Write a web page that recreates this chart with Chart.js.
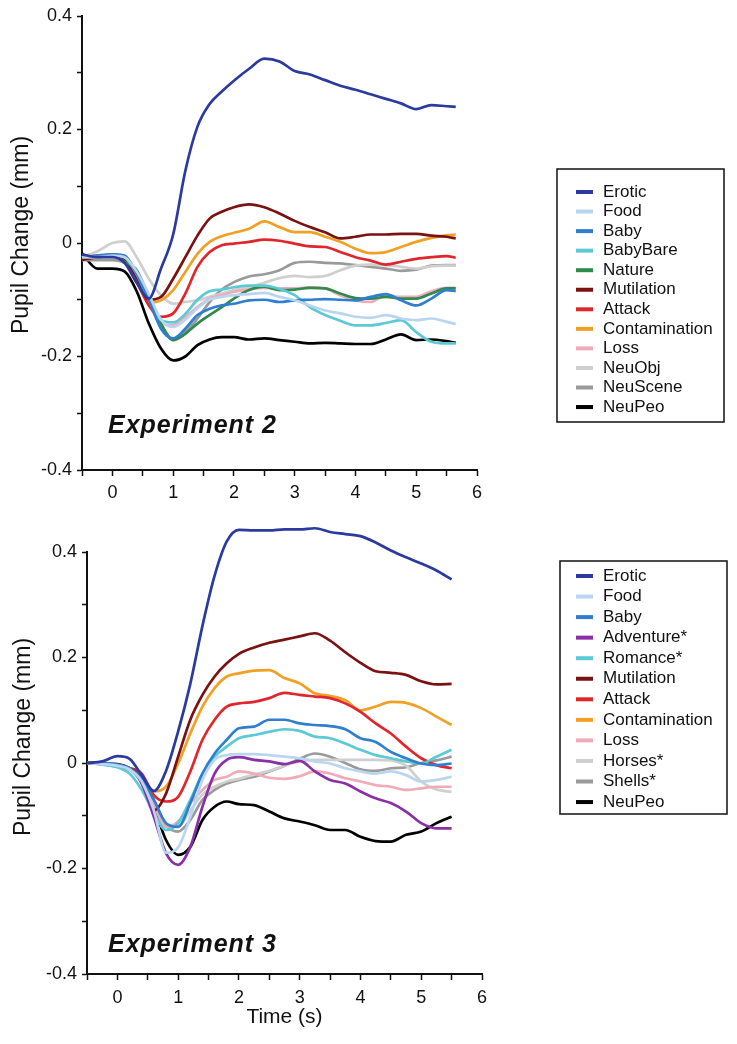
<!DOCTYPE html>
<html>
<head>
<meta charset="utf-8">
<script src="https://cdn.jsdelivr.net/npm/chart.js@4.4.1/dist/chart.umd.min.js"></script>
<style>
  body { margin: 0; background: #fff; }
  #c1 { position: absolute; left: 0; top: 0; }
  #c2 { position: absolute; left: 0; top: 505px; }
</style>
</head>
<body>
<canvas id="c1" width="737" height="505"></canvas>
<canvas id="c2" width="737" height="539"></canvas>
<script>
// time points (s)
const time1 = [-0.5, -0.25, 0, 0.2, 0.4, 0.6, 0.8, 1.0, 1.2, 1.4, 1.6, 1.8, 2.0, 2.25, 2.5, 2.75, 3, 3.25, 3.5, 3.75, 4, 4.25, 4.5, 4.75, 5, 5.25, 5.5, 5.65];
const time2 = [-0.5, -0.25, 0, 0.2, 0.4, 0.6, 0.8, 1.0, 1.2, 1.4, 1.6, 1.8, 2.0, 2.25, 2.5, 2.75, 3, 3.25, 3.5, 3.75, 4, 4.25, 4.5, 4.75, 5, 5.25, 5.5];

const xTicks = [0, 1, 2, 3, 4, 5, 6];
const yTicks = [-0.4, -0.2, 0, 0.2, 0.4];

// Experiment 2
const labels1 = ['Erotic', 'Food', 'Baby', 'BabyBare', 'Nature', 'Mutilation', 'Attack', 'Contamination', 'Loss', 'NeuObj', 'NeuScene', 'NeuPeo'];
const erotic1 = [-0.02, -0.025, -0.025, -0.035, -0.07, -0.098, -0.045, 0.015, 0.127, 0.205, 0.245, 0.267, 0.286, 0.307, 0.325, 0.32, 0.303, 0.297, 0.287, 0.277, 0.27, 0.262, 0.254, 0.246, 0.236, 0.243, 0.241, 0.24];
const food1 = [-0.025, -0.025, -0.022, -0.025, -0.05, -0.09, -0.135, -0.148, -0.135, -0.115, -0.1, -0.095, -0.092, -0.09, -0.088, -0.095, -0.101, -0.11, -0.119, -0.124, -0.13, -0.132, -0.127, -0.133, -0.136, -0.133, -0.139, -0.143];
const baby1 = [-0.025, -0.022, -0.02, -0.022, -0.054, -0.1, -0.151, -0.168, -0.151, -0.127, -0.116, -0.11, -0.107, -0.101, -0.1, -0.104, -0.101, -0.1, -0.099, -0.1, -0.101, -0.095, -0.09, -0.101, -0.11, -0.098, -0.083, -0.085];
const babyBare1 = [-0.025, -0.025, -0.022, -0.025, -0.055, -0.1, -0.136, -0.14, -0.125, -0.1, -0.085, -0.082, -0.078, -0.075, -0.075, -0.081, -0.092, -0.113, -0.127, -0.137, -0.145, -0.145, -0.141, -0.136, -0.157, -0.174, -0.177, -0.177];
const nature1 = [-0.025, -0.025, -0.022, -0.033, -0.048, -0.095, -0.142, -0.171, -0.16, -0.142, -0.127, -0.113, -0.098, -0.083, -0.077, -0.083, -0.082, -0.079, -0.08, -0.089, -0.097, -0.098, -0.095, -0.098, -0.098, -0.089, -0.08, -0.08];
const mutilation1 = [-0.03, -0.025, -0.02, -0.028, -0.06, -0.1, -0.095, -0.063, -0.025, 0.013, 0.043, 0.055, 0.063, 0.068, 0.063, 0.052, 0.039, 0.028, 0.019, 0.008, 0.011, 0.015, 0.015, 0.016, 0.016, 0.013, 0.011, 0.008];
const attack1 = [-0.028, -0.022, -0.022, -0.03, -0.069, -0.11, -0.13, -0.124, -0.089, -0.042, -0.016, -0.004, -0.001, 0.002, 0.006, 0.004, -0.001, -0.006, -0.007, -0.016, -0.025, -0.031, -0.038, -0.033, -0.028, -0.025, -0.023, -0.026];
const contamination1 = [-0.03, -0.025, -0.022, -0.028, -0.06, -0.105, -0.101, -0.083, -0.051, -0.019, 0.002, 0.012, 0.018, 0.025, 0.038, 0.028, 0.019, 0.019, 0.011, 0.002, -0.01, -0.018, -0.016, -0.007, 0.002, 0.009, 0.0135, 0.015];
const loss1 = [-0.028, -0.025, -0.022, -0.028, -0.06, -0.107, -0.142, -0.145, -0.13, -0.113, -0.098, -0.092, -0.086, -0.082, -0.079, -0.08, -0.08, -0.078, -0.08, -0.092, -0.101, -0.104, -0.092, -0.095, -0.095, -0.085, -0.079, -0.079];
const neuObj1 = [-0.025, -0.015, 0, 0.003, -0.025, -0.063, -0.092, -0.107, -0.104, -0.101, -0.095, -0.089, -0.083, -0.078, -0.07, -0.062, -0.058, -0.06, -0.058, -0.048, -0.04, -0.038, -0.039, -0.042, -0.045, -0.041, -0.04, -0.04];
const neuScene1 = [-0.03, -0.03, -0.03, -0.035, -0.06, -0.1, -0.145, -0.17, -0.157, -0.133, -0.104, -0.082, -0.069, -0.059, -0.055, -0.048, -0.035, -0.033, -0.035, -0.036, -0.039, -0.042, -0.045, -0.049, -0.047, -0.04, -0.039, -0.039];
const neuPeo1 = [-0.018, -0.045, -0.045, -0.05, -0.085, -0.142, -0.186, -0.207, -0.2, -0.18, -0.17, -0.166, -0.166, -0.17, -0.168, -0.171, -0.174, -0.177, -0.176, -0.177, -0.178, -0.178, -0.17, -0.161, -0.171, -0.17, -0.173, -0.176];
const values1 = [erotic1, food1, baby1, babyBare1, nature1, mutilation1, attack1, contamination1, loss1, neuObj1, neuScene1, neuPeo1];

// Experiment 3
const labels2 = ['Erotic', 'Food', 'Baby', 'Adventure*', 'Romance*', 'Mutilation', 'Attack', 'Contamination', 'Loss', 'Horses*', 'Shells*', 'NeuPeo'];
const erotic2 = [0, 0.003, 0.013, 0.008, -0.023, -0.053, -0.015, 0.06, 0.15, 0.26, 0.355, 0.42, 0.442, 0.441, 0.441, 0.443, 0.443, 0.445, 0.438, 0.434, 0.43, 0.418, 0.403, 0.39, 0.378, 0.365, 0.348];
const food2 = [0, -0.002, -0.005, -0.012, -0.035, -0.09, -0.17, -0.16, -0.102, -0.032, 0.006, 0.015, 0.017, 0.017, 0.015, 0.012, 0.009, 0.003, -0.001, -0.01, -0.016, -0.02, -0.016, -0.023, -0.035, -0.032, -0.026];
const baby2 = [0, 0, -0.003, -0.01, -0.03, -0.07, -0.114, -0.121, -0.076, -0.02, 0.018, 0.044, 0.066, 0.069, 0.082, 0.082, 0.075, 0.072, 0.07, 0.064, 0.047, 0.04, 0.021, 0.009, -0.001, -0.004, -0.001];
const adventure2 = [0, 0, -0.004, -0.01, -0.039, -0.102, -0.171, -0.193, -0.159, -0.083, -0.02, 0.006, 0.011, 0.006, 0.003, -0.002, 0.004, -0.016, -0.032, -0.039, -0.054, -0.067, -0.076, -0.092, -0.114, -0.124, -0.124];
const romance2 = [0, -0.003, -0.008, -0.02, -0.051, -0.095, -0.127, -0.114, -0.07, -0.02, 0.012, 0.031, 0.047, 0.053, 0.059, 0.064, 0.061, 0.05, 0.047, 0.037, 0.025, 0.015, 0.009, 0.003, -0.001, 0.012, 0.025];
const mutilation2 = [0, 0, -0.005, -0.01, -0.03, -0.09, -0.058, 0.012, 0.082, 0.129, 0.164, 0.189, 0.207, 0.219, 0.228, 0.234, 0.24, 0.246, 0.232, 0.21, 0.19, 0.174, 0.171, 0.167, 0.155, 0.149, 0.15];
const attack2 = [0, -0.002, -0.007, -0.01, -0.02, -0.061, -0.073, -0.064, -0.016, 0.044, 0.082, 0.107, 0.113, 0.116, 0.123, 0.133, 0.129, 0.126, 0.123, 0.113, 0.097, 0.075, 0.056, 0.031, 0.009, -0.004, -0.01];
const contamination2 = [0, 0, -0.004, -0.01, -0.03, -0.054, -0.045, -0.001, 0.056, 0.107, 0.142, 0.164, 0.17, 0.175, 0.176, 0.161, 0.151, 0.132, 0.127, 0.119, 0.1, 0.107, 0.116, 0.114, 0.104, 0.088, 0.072];
const loss2 = [0, -0.002, -0.006, -0.012, -0.035, -0.08, -0.121, -0.111, -0.076, -0.051, -0.032, -0.026, -0.016, -0.02, -0.028, -0.03, -0.025, -0.016, -0.02, -0.029, -0.035, -0.042, -0.045, -0.051, -0.048, -0.045, -0.045];
const horses2 = [0, -0.002, -0.005, -0.01, -0.035, -0.075, -0.115, -0.12, -0.09, -0.06, -0.045, -0.035, -0.03, -0.022, -0.015, -0.005, 0.003, 0.006, 0.006, 0.006, 0.006, 0.006, 0.005, -0.005, -0.035, -0.05, -0.055];
const shells2 = [0, 0, -0.004, -0.012, -0.035, -0.07, -0.118, -0.13, -0.108, -0.07, -0.051, -0.039, -0.032, -0.026, -0.016, -0.005, 0.008, 0.018, 0.012, 0, -0.012, -0.015, -0.01, -0.008, 0, 0.005, 0.012];
const neuPeo2 = [0, -0.001, -0.002, -0.01, -0.032, -0.083, -0.146, -0.174, -0.159, -0.108, -0.083, -0.073, -0.078, -0.08, -0.092, -0.105, -0.111, -0.118, -0.127, -0.127, -0.14, -0.148, -0.149, -0.136, -0.13, -0.114, -0.102];
const values2 = [erotic2, food2, baby2, adventure2, romance2, mutilation2, attack2, contamination2, loss2, horses2, shells2, neuPeo2];

const colors = {
    'Erotic': '#2b3a9e',
    'Food': '#b9d5f0',
    'Baby': '#2f7fcf',
    'BabyBare': '#5cc9d6',
    'Romance*': '#5cc9d6',
    'Adventure*': '#8a2fa6',
    'Nature': '#2f8b4c',
    'Mutilation': '#7b1212',
    'Attack': '#e0262a',
    'Contamination': '#f0a124',
    'Loss': '#f0aab8',
    'NeuObj': '#cfcfcf',
    'Horses*': '#cfcfcf',
    'NeuScene': '#9a9a9a',
    'Shells*': '#9a9a9a',
    'NeuPeo': '#000000'
};

const FONT = '"Liberation Sans", Arial, sans-serif';

// boxed legend drawn at a fixed spot right of the plot
const legendBox = {
    id: 'legendBox',
    afterDraw(chart, args, opts) {
        const ctx = chart.ctx;
        ctx.save();
        ctx.strokeStyle = '#111';
        ctx.lineWidth = 1.5;
        ctx.strokeRect(opts.x, opts.y, opts.w, opts.h);
        ctx.font = '17px ' + FONT;
        ctx.textBaseline = 'middle';
        chart.data.datasets.forEach((ds, i) => {
            const y = opts.firstRow + i * opts.rowGap;
            ctx.fillStyle = ds.borderColor;
            ctx.fillRect(opts.swatchX, y - 2, 17, 4);
            ctx.fillStyle = '#111';
            ctx.fillText(ds.label, opts.textX, y);
        });
        ctx.restore();
    }
};

// y title + experiment tag
const sideText = {
    id: 'sideText',
    afterDraw(chart, args, opts) {
        const ctx = chart.ctx;
        ctx.save();
        ctx.fillStyle = '#111';
        ctx.font = 'italic bold 25px ' + FONT;
        ctx.letterSpacing = '1px';
        ctx.fillText(opts.tag, opts.tagX, opts.tagY);
        ctx.letterSpacing = '0px';
        ctx.translate(opts.titleX, opts.titleY);
        ctx.rotate(-Math.PI / 2);
        ctx.font = '23px ' + FONT;
        ctx.textAlign = 'center';
        ctx.textBaseline = 'middle';
        ctx.fillText('Pupil Change (mm)', 0, 0);
        ctx.restore();
    }
};

const makeDatasets = (labels, values, times) =>
    labels.map((name, i) => ({
        label: name,
        data: values[i].map((v, j) => ({ x: times[j], y: v })),
        borderColor: colors[name],
        borderWidth: 2.7,
        pointRadius: 0,
        cubicInterpolationMode: 'monotone',
        clip: false
    }));

const makeOptions = (cfg) => ({
    responsive: false,
    animation: false,
    layout: { padding: { top: cfg.top, right: cfg.right, left: 0, bottom: 0 } },
    plugins: {
        legend: { display: false },
        tooltip: { enabled: false },
        legendBox: cfg.legend,
        sideText: cfg.side
    },
    scales: {
        x: {
            type: 'linear',
            min: -0.5,
            max: 6,
            afterFit: (s) => { s.height = cfg.xHeight; },
            border: { color: '#111', width: 2 },
            grid: { drawOnChartArea: false, tickLength: 6, tickColor: '#111', tickWidth: 1.5 },
            ticks: {
                stepSize: 0.5,
                autoSkip: false,
                maxRotation: 0,
                padding: cfg.xPad,
                color: '#111',
                font: { family: FONT, size: 18 },
                callback: (v) => xTicks.includes(v) ? String(v) : ''
            },
            title: cfg.xTitle
        },
        y: {
            min: -0.4,
            max: 0.4,
            afterFit: (s) => { s.width = cfg.yWidth; },
            border: { color: '#111', width: 2 },
            grid: { drawOnChartArea: false, tickLength: 5, tickColor: '#111', tickWidth: 1.5 },
            ticks: {
                stepSize: 0.1,
                autoSkip: false,
                padding: 5,
                color: '#111',
                font: { family: FONT, size: 18 },
                callback: (v) => {
                    const r = Math.round(v * 10) / 10;
                    return yTicks.includes(r) ? String(r) : '';
                }
            }
        }
    }
});

new Chart(document.getElementById('c1'), {
    type: 'line',
    data: { datasets: makeDatasets(labels1, values1, time1) },
    options: makeOptions({
        top: 16, right: 260, xHeight: 35, yWidth: 82, xPad: 6,
        xTitle: { display: false },
        legend: { x: 557, y: 169, w: 167, h: 253, firstRow: 192, rowGap: 19.55, swatchX: 576, textX: 603 },
        side: { tag: 'Experiment 2', tagX: 108, tagY: 433, titleX: 22, titleY: 235 }
    }),
    plugins: [legendBox, sideText]
});

new Chart(document.getElementById('c2'), {
    type: 'line',
    data: { datasets: makeDatasets(labels2, values2, time2) },
    options: makeOptions({
        top: 47, right: 255, xHeight: 70, yWidth: 87, xPad: 7,
        xTitle: { display: true, text: 'Time (s)', color: '#111', font: { family: FONT, size: 21 }, padding: { top: 0, bottom: 14 } },
        legend: { x: 560, y: 56, w: 167, h: 253, firstRow: 71, rowGap: 20.55, swatchX: 576, textX: 603 },
        side: { tag: 'Experiment 3', tagX: 108, tagY: 447, titleX: 24, titleY: 232 }
    }),
    plugins: [legendBox, sideText]
});
</script>
</body>
</html>
